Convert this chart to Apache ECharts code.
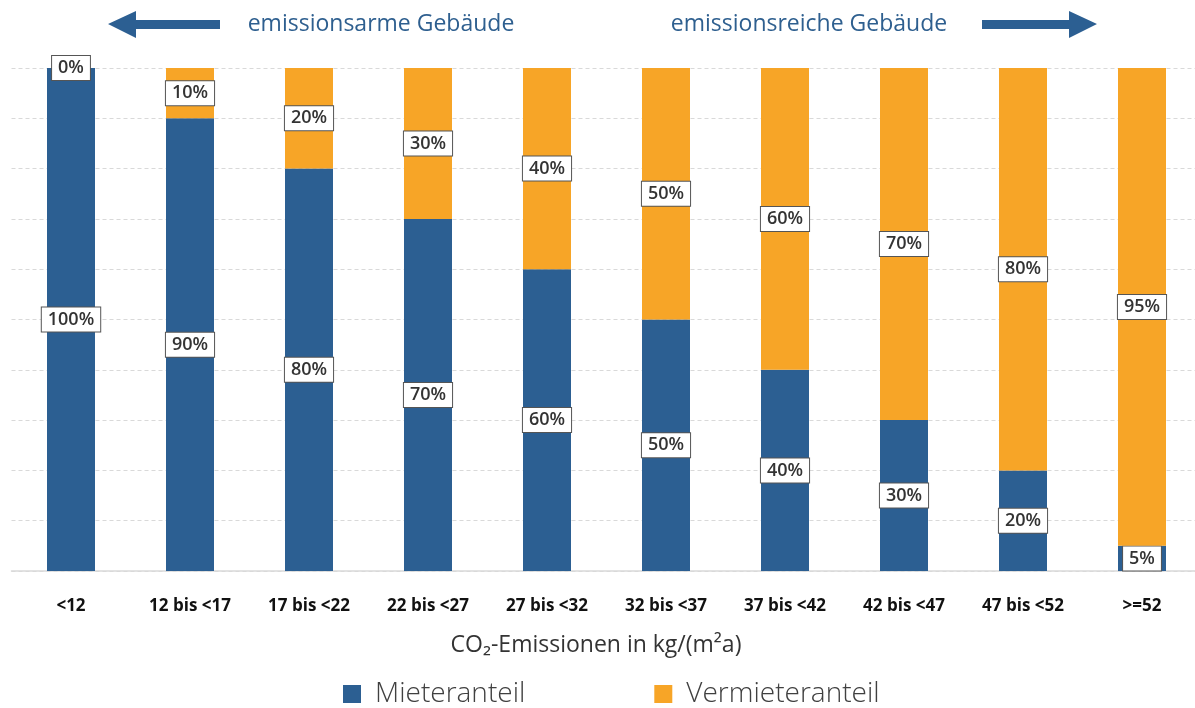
<!DOCTYPE html>
<html>
<head>
<meta charset="utf-8">
<script src="https://cdn.jsdelivr.net/npm/echarts@6/dist/echarts.min.js"></script>
<style>
  html, body { margin: 0; padding: 0; background: #ffffff; overflow: hidden; }
  #chart { width: 1195px; height: 708px; }
</style>
</head>
<body>
<div id="chart"></div>
<script>
// Emission classes (kg CO2 per m² and year)
const categories = ['<12', '12 bis <17', '17 bis <22', '22 bis <27', '27 bis <32',
  '32 bis <37', '37 bis <42', '42 bis <47', '47 bis <52', '>=52'];
// Share of CO2 cost borne by tenants / landlords, in percent
const mieteranteil = [100, 90, 80, 70, 60, 50, 40, 30, 20, 5];
const vermieteranteil = [0, 10, 20, 30, 40, 50, 60, 70, 80, 95];
const seriesNames = ['Mieteranteil', 'Vermieteranteil'];

const BLUE = '#2c5f92';
const ORANGE = '#f7a527';
const FONT = '"Open Sans", "Noto Sans", sans-serif';

const boxLabel = {
  show: true,
  position: 'inside',
  formatter: '{c}%',
  color: '#333333',
  fontFamily: FONT,
  fontSize: 18,
  fontWeight: 600,
  backgroundColor: '#ffffff',
  borderColor: '#555555',
  borderWidth: 1,
  padding: [4, 6, 2, 6]
};

const chart = echarts.init(document.getElementById('chart'));
chart.setOption({
  animation: false,
  textStyle: { fontFamily: FONT },
  grid: { left: 11.5, width: 1190, top: 68, bottom: 137, containLabel: false, outerBoundsMode: 'none' },
  legend: {
    data: seriesNames,
    bottom: -5,
    left: 338,
    icon: 'rect',
    itemWidth: 18,
    itemHeight: 18,
    itemGap: 129,
    textStyle: { fontFamily: FONT, fontSize: 28, color: '#404040', fontWeight: 300, padding: [0, 0, 0, 9] }
  },
  xAxis: {
    type: 'category',
    data: categories,
    axisLine: { lineStyle: { color: '#d9d9d9', width: 1.5 } },
    axisTick: { show: false },
    axisLabel: { color: '#111111', fontFamily: FONT, fontSize: 17, fontWeight: 700, margin: 27 },
    name: 'CO₂-Emissionen in kg/(m²a)',
    nameLocation: 'middle',
    nameGap: 63,
    nameTextStyle: { color: '#333333', fontFamily: FONT, fontSize: 23, padding: [0, 21, 0, 0] }
  },
  yAxis: {
    type: 'value',
    min: 0,
    max: 100,
    interval: 10,
    axisLabel: { show: false },
    axisLine: { show: false },
    axisTick: { show: false },
    splitLine: { lineStyle: { color: '#d9d9d9', type: [4, 3], width: 1 } }
  },
  series: [
    {
      name: seriesNames[0],
      type: 'bar',
      stack: 'anteil',
      barWidth: 48,
      data: mieteranteil,
      itemStyle: { color: BLUE },
      label: boxLabel
    },
    {
      name: seriesNames[1],
      type: 'bar',
      stack: 'anteil',
      barWidth: 48,
      data: vermieteranteil,
      itemStyle: { color: ORANGE },
      label: boxLabel,
      z: 3
    }
  ],
  graphic: [
    // arrow pointing left, towards low-emission buildings
    {
      type: 'polygon',
      shape: { points: [[108, 24], [136, 11], [136, 20], [220, 20], [220, 29], [136, 29], [136, 38]] },
      style: { fill: BLUE }
    },
    {
      type: 'text',
      x: 381, y: 24,
      style: { text: 'emissionsarme Gebäude', fill: '#2e5f8f', font: '23px ' + FONT, align: 'center', verticalAlign: 'middle' }
    },
    {
      type: 'text',
      x: 809, y: 24,
      style: { text: 'emissionsreiche Gebäude', fill: '#2e5f8f', font: '23px ' + FONT, align: 'center', verticalAlign: 'middle' }
    },
    // arrow pointing right, towards high-emission buildings
    {
      type: 'polygon',
      shape: { points: [[982, 20], [1069, 20], [1069, 11], [1097, 24], [1069, 38], [1069, 29], [982, 29]] },
      style: { fill: BLUE }
    }
  ]
});
</script>
</body>
</html>
